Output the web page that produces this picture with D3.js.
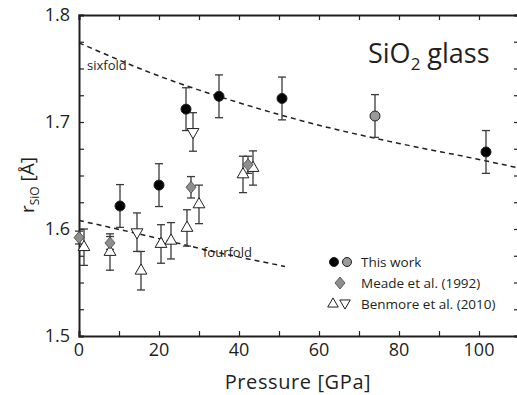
<!DOCTYPE html>
<html>
<head>
<meta charset="utf-8">
<script src="https://cdn.jsdelivr.net/npm/d3@7"></script>
<style>
	body { margin: 0; background: #fff; }
	text { font-family: "Open Sans", sans-serif; fill: #231f20; }
</style>
</head>
<body>
<div id="chart"></div>
<script>

// this work (black) and one grey point
var workP = [10.25, 20, 26.75, 35, 50.75, 101.75];
var workR = [1.6215, 1.641, 1.712, 1.724, 1.722, 1.672];
var workErr = [0.02, 0.02, 0.02, 0.02, 0.02, 0.02];
var workGreyP = [74];
var workGreyR = [1.7056];
var workGreyErr = [0.02];

// Meade et al. (1992)
var meadeP = [0, 7.75, 28, 42.25];
var meadeR = [1.592, 1.587, 1.639, 1.660];
var meadeErr = [0.006, 0.006, 0.01, 0.008];

// Benmore et al. (2010)
var benUpP = [1.25, 7.75, 15.5, 20.5, 23, 27, 30, 41, 43.5];
var benUpR = [1.583, 1.5785, 1.561, 1.586, 1.589, 1.601, 1.623, 1.651, 1.657];
var benUpErr = [0.017, 0.017, 0.018, 0.018, 0.017, 0.017, 0.018, 0.017, 0.016];
var benDownP = [14.5, 28.5];
var benDownR = [1.597, 1.6907];
var benDownErr = [0.018, 0.018];

// dashed guide curves
var sixP = [0, 20, 40, 60, 80, 100, 110];
var sixR = [1.774, 1.743, 1.718, 1.697, 1.680, 1.665, 1.657];
var fourP = [0, 20, 30, 51.5];
var fourR = [1.608, 1.591, 1.582, 1.565];

var xTicks = [0, 20, 40, 60, 80, 100];
var yTicks = [1.5, 1.6, 1.7, 1.8];

var width = 517, height = 395;
var svg = d3.select("#chart").append("svg")
	.attr("width", width)
	.attr("height", height);

var x = d3.scaleLinear().domain([0, 110]).range([79, 519]);
var y = d3.scaleLinear().domain([1.5, 1.8]).range([336, 15]);

var zip = function(ps, rs, es) {
	return ps.map(function(p, i) {
		return {p: p, r: rs[i], e: es ? es[i] : 0};
	});
};

// axes: ticks pointing inward
var ink = "#231f20";
svg.append("g").attr("transform", "translate(0,336)")
	.call(d3.axisBottom(x).tickValues(d3.range(0, 111, 10)).tickSize(-5).tickFormat(""));
svg.append("g").attr("transform", "translate(0,15)")
	.call(d3.axisTop(x).tickValues(d3.range(0, 111, 10)).tickSize(-5).tickFormat(""));
svg.append("g").attr("transform", "translate(79,0)")
	.call(d3.axisLeft(y).tickValues(d3.range(1.5, 1.801, 0.025)).tickSize(-5).tickFormat(""));
svg.append("g").attr("transform", "translate(519,0)")
	.call(d3.axisRight(y).tickValues(d3.range(1.5, 1.801, 0.025)).tickSize(-5).tickFormat(""));
svg.selectAll(".domain").attr("stroke", ink).attr("stroke-width", 2);
svg.selectAll(".tick line").attr("stroke", ink).attr("stroke-width", 1.2);

svg.selectAll(".xlab").data(xTicks).enter().append("text")
	.attr("x", function(d) { return x(d); })
	.attr("y", 356)
	.attr("text-anchor", "middle")
	.attr("font-size", "18px")
	.text(function(d) { return d; });

svg.selectAll(".ylab").data(yTicks).enter().append("text")
	.attr("x", 70)
	.attr("y", function(d) { return y(d) + 6; })
	.attr("text-anchor", "end")
	.attr("font-size", "18px")
	.text(function(d) { return d.toFixed(1); });

svg.append("text")
	.attr("x", 298).attr("y", 389)
	.attr("text-anchor", "middle")
	.attr("font-size", "20px")
	.attr("letter-spacing", "0.6px")
	.text("Pressure [GPa]");

var ylab = svg.append("text")
	.attr("transform", "translate(34,185) rotate(-90)")
	.attr("text-anchor", "middle")
	.attr("font-size", "19px");
ylab.append("tspan").text("r");
ylab.append("tspan").attr("font-size", "12px").attr("dy", 5).text("SiO");
ylab.append("tspan").attr("dy", -5).text(" [Å]");

var title = svg.append("text")
	.attr("x", 368).attr("y", 63)
	.attr("font-size", "27px");
title.append("tspan").text("SiO");
title.append("tspan").attr("font-size", "17px").attr("dy", 7).text("2");
title.append("tspan").attr("dy", -7).text(" glass");

// dashed curves
var line = d3.line()
	.x(function(d) { return x(d.p); })
	.y(function(d) { return y(d.r); })
	.curve(d3.curveMonotoneX);

[zip(sixP, sixR), zip(fourP, fourR)].forEach(function(pts) {
	svg.append("path")
		.datum(pts)
		.attr("d", line)
		.attr("fill", "none")
		.attr("stroke", ink)
		.attr("stroke-width", 1.5)
		.attr("stroke-dasharray", "5,4");
});

svg.append("text").attr("x", 87).attr("y", 70).attr("font-size", "13px").text("sixfold");
svg.append("text").attr("x", 203).attr("y", 257).attr("font-size", "13px").text("fourfold");

// error bars
var errColor = "#3a3a3a";
var drawErr = function(pts) {
	var g = svg.append("g").attr("stroke", errColor).attr("stroke-width", 1.3);
	pts.forEach(function(d) {
		var cx = x(d.p), t = y(d.r + d.e), b = y(d.r - d.e);
		g.append("line").attr("x1", cx).attr("x2", cx).attr("y1", t).attr("y2", b);
		g.append("line").attr("x1", cx - 4).attr("x2", cx + 4).attr("y1", t).attr("y2", t);
		g.append("line").attr("x1", cx - 4).attr("x2", cx + 4).attr("y1", b).attr("y2", b);
	});
};

var meade = zip(meadeP, meadeR, meadeErr);
var benUp = zip(benUpP, benUpR, benUpErr);
var benDown = zip(benDownP, benDownR, benDownErr);
var work = zip(workP, workR, workErr);
var workGrey = zip(workGreyP, workGreyR, workGreyErr);

[meade, benUp, benDown, work, workGrey].forEach(drawErr);

var triUp = d3.symbol().type(d3.symbolTriangle).size(60);
var triLegend = d3.symbol().type(d3.symbolTriangle).size(48);
var diamond = "M0,-6L5,0L0,6L-5,0Z";

var drawTri = function(pts, flip) {
	svg.selectAll(null).data(pts).enter().append("path")
		.attr("d", triUp)
		.attr("transform", function(d) {
			return "translate(" + x(d.p) + "," + y(d.r) + ")" + (flip ? " rotate(180)" : "");
		})
		.attr("fill", "#fff")
		.attr("stroke", ink)
		.attr("stroke-width", 1);
};
var drawDia = function(pts) {
	svg.selectAll(null).data(pts).enter().append("path")
		.attr("d", diamond)
		.attr("transform", function(d) { return "translate(" + x(d.p) + "," + y(d.r) + ")"; })
		.attr("fill", "#8e8e8e")
		.attr("stroke", "#444")
		.attr("stroke-width", 0.8);
};
var drawDot = function(pts, fill) {
	svg.selectAll(null).data(pts).enter().append("circle")
		.attr("cx", function(d) { return x(d.p); })
		.attr("cy", function(d) { return y(d.r); })
		.attr("r", 5)
		.attr("fill", fill)
		.attr("stroke", ink)
		.attr("stroke-width", 1);
};

drawTri(benUp, false);
drawTri(benDown, true);
drawDia(meade);
drawDot(work, "#000");
drawDot(workGrey, "#999");

// legend
var lg = svg.append("g");
lg.append("circle").attr("cx", 334).attr("cy", 262).attr("r", 4.5).attr("fill", "#000").attr("stroke", ink);
lg.append("circle").attr("cx", 347).attr("cy", 262).attr("r", 4.5).attr("fill", "#999").attr("stroke", ink);
lg.append("path").attr("d", diamond).attr("transform", "translate(340,283)")
	.attr("fill", "#8e8e8e").attr("stroke", "#444").attr("stroke-width", 0.8);
lg.append("path").attr("d", triLegend).attr("transform", "translate(333,304)")
	.attr("fill", "#fff").attr("stroke", ink);
lg.append("path").attr("d", triLegend).attr("transform", "translate(345,303) rotate(180)")
	.attr("fill", "#fff").attr("stroke", ink);
lg.append("text").attr("x", 361).attr("y", 267).attr("font-size", "13.5px").text("This work");
lg.append("text").attr("x", 361).attr("y", 288).attr("font-size", "13.5px").text("Meade et al. (1992)");
lg.append("text").attr("x", 361).attr("y", 309).attr("font-size", "13.5px").text("Benmore et al. (2010)");

</script>
</body>
</html>
